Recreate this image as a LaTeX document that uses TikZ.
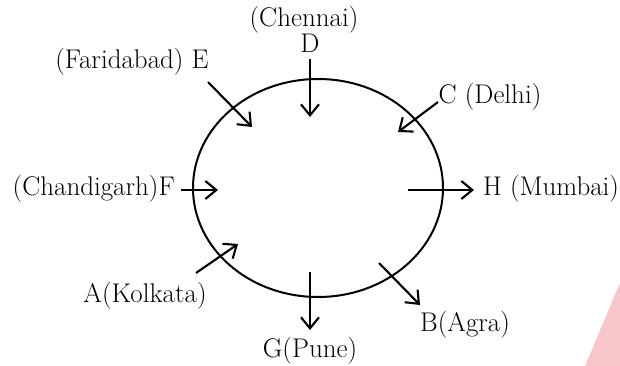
\documentclass[tikz,border=0pt]{standalone}
\usepackage{fontspec}
\usetikzlibrary{arrows.meta}
\definecolor{wmpink}{RGB}{247,198,202}
\tikzset{
  lbl/.style={inner sep=0pt, font=\fontsize{27}{31}\selectfont},
  conn/.style={line width=2.1pt, -{Straight Barb[length=11pt,width=18pt,line width=2.1pt]}},
  ring/.style={line width=2pt}
}
\begin{document}
\begin{tikzpicture}[x=1pt,y=-1pt]
\useasboundingbox (0,0) rectangle (620,366);
% watermark corner
\fill[wmpink] (620,283) -- (585,366) -- (620,366) -- cycle;
% ellipse
\draw[ring] (318,188) ellipse [x radius=125, y radius=109];
% labels
\node[lbl] (chennai) at (304,20) {(Chennai)};
\node[lbl] (d) at (310,43) {D};
\node[lbl] (e) at (132,62) {(Faridabad) E};
\node[lbl] (c) at (490,97) {C (Delhi)};
\node[lbl, anchor=east] (f) at (175,189) {(Chandigarh)F};
\node[lbl, anchor=west] (h) at (483,189) {H (Mumbai)};
\node[lbl] (a) at (145,296) {A(Kolkata)};
\node[lbl] (g) at (310,351) {G(Pune)};
\node[lbl] (b) at (465,325) {B(Agra)};
% connector ends
\coordinate (d1) at (310,59);  \coordinate (d2) at (310,117);
\coordinate (e1) at (208,82);  \coordinate (e2) at (252,127);
\coordinate (c1) at (438,102); \coordinate (c2) at (398,132);
\coordinate (f1) at (181,190); \coordinate (f2) at (218,190);
\coordinate (h1) at (408,190); \coordinate (h2) at (474,190);
\coordinate (a1) at (196,273); \coordinate (a2) at (238,244);
\coordinate (g1) at (310,272); \coordinate (g2) at (310,330);
\coordinate (b1) at (379,263); \coordinate (b2) at (420,305);
% connectors
\draw[conn] (d1) -- (d2);
\draw[conn] (e1) -- (e2);
\draw[conn] (c1) -- (c2);
\draw[conn] (f1) -- (f2);
\draw[conn] (h1) -- (h2);
\draw[conn] (a1) -- (a2);
\draw[conn] (g1) -- (g2);
\draw[conn] (b1) -- (b2);
\end{tikzpicture}
\end{document}
